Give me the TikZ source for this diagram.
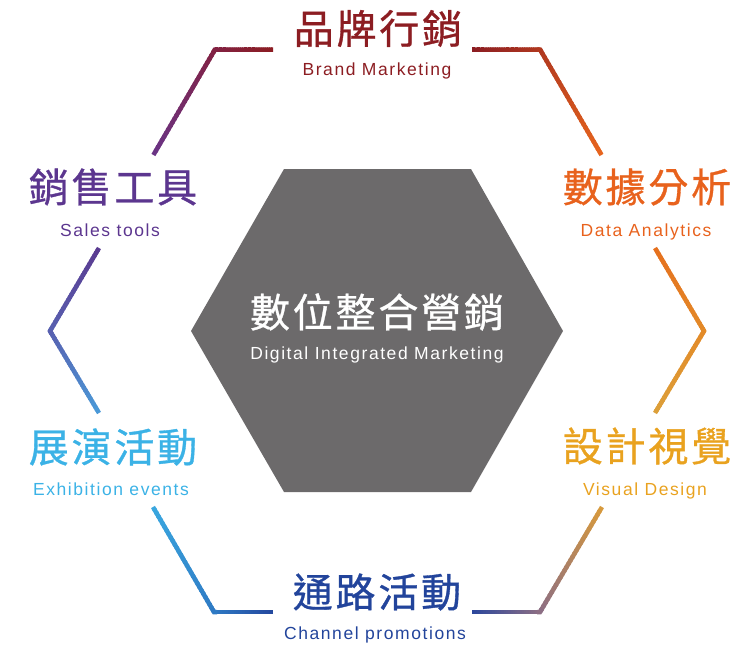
\documentclass[tikz,border=0pt]{standalone}
\usepackage{fontspec}
\setmainfont{Liberation Sans}
\newfontfamily\cjk[FakeBold=0.8]{Noto Sans CJK TC}
\usetikzlibrary{calc}
\definecolor{cRed}{HTML}{8C1D22}
\definecolor{cOrange}{HTML}{E8621D}
\definecolor{cGold}{HTML}{E9A21F}
\definecolor{cBlue}{HTML}{22449B}
\definecolor{cLight}{HTML}{3BB2E6}
\definecolor{cPurple}{HTML}{5C368F}
\definecolor{cHex}{HTML}{6C6A6B}
% line colours
\definecolor{lA}{HTML}{6A3486}
\definecolor{lB}{HTML}{822142}
\definecolor{lC}{HTML}{8C1D22}
\definecolor{lD}{HTML}{B0381F}
\definecolor{lE}{HTML}{E8661E}
\definecolor{lF}{HTML}{E5701E}
\definecolor{lG}{HTML}{E38A28}
\definecolor{lH}{HTML}{DCA03A}
\definecolor{lI}{HTML}{D89A3C}
\definecolor{lJ}{HTML}{8C6E84}
\definecolor{lK}{HTML}{2A469C}
\definecolor{lL}{HTML}{24489E}
\definecolor{lM}{HTML}{2E7AC4}
\definecolor{lN}{HTML}{3AA8E0}
\definecolor{lO}{HTML}{4A9AD8}
\definecolor{lP}{HTML}{5860B0}
\definecolor{lQ}{HTML}{5A3A90}
\tikzset{
  frame/.style={line width=4.5pt, line cap=butt},
  cjktext/.style={font=\cjk\fontsize{40}{44}\selectfont\addfontfeatures{LetterSpace=7}, inner sep=0pt},
  entext/.style={font=\fontsize{17.5}{20}\selectfont\addfontfeatures{LetterSpace=9}, inner sep=0pt, anchor=base},
}
\newcommand\gradseg[4]{%
  \foreach \i in {0,...,29}{%
    \pgfmathsetmacro\ta{\i/30}%
    \pgfmathsetmacro\tb{min((\i+1.5)/30,1)}%
    \pgfmathtruncatemacro\pc{(\i+0.5)/30*100}%
    \draw[frame, color=#4!\pc!#3] ($(#1)!\ta!(#2)$) -- ($(#1)!\tb!(#2)$);
  }}
\newcommand\corner[4]{%
  \draw[frame, color=#4, line join=miter] ($(#2)!3pt!(#1)$) -- (#2) -- ($(#2)!3pt!(#3)$);}
\begin{document}
\begin{tikzpicture}[x=1pt,y=-1pt]
\useasboundingbox (0,0) rectangle (751,651);
% outer frame points
\coordinate (A1) at (153.4,155);
\coordinate (A2) at (215,49.5);
\coordinate (A3) at (273,49.5);
\coordinate (B1) at (472,49.5);
\coordinate (B2) at (540,49.5);
\coordinate (B3) at (601.5,155);
\coordinate (C1) at (655,248);
\coordinate (C2) at (704,331);
\coordinate (C3) at (655,413);
\coordinate (D1) at (602,507);
\coordinate (D2) at (540,612);
\coordinate (D3) at (472,612);
\coordinate (E1) at (273,612);
\coordinate (E2) at (214,612);
\coordinate (E3) at (153,507);
\coordinate (F1) at (99,413);
\coordinate (F2) at (50,331);
\coordinate (F3) at (99,248);
\gradseg{A1}{A2}{lA}{lB}
\gradseg{A2}{A3}{lB}{lC}
\corner{A1}{A2}{A3}{lB}
\gradseg{B1}{B2}{lC}{lD}
\gradseg{B2}{B3}{lD}{lE}
\corner{B1}{B2}{B3}{lD}
\gradseg{C1}{C2}{lF}{lG}
\gradseg{C2}{C3}{lG}{lH}
\corner{C1}{C2}{C3}{lG}
\gradseg{D1}{D2}{lI}{lJ}
\gradseg{D2}{D3}{lJ}{lK}
\corner{D1}{D2}{D3}{lJ}
\gradseg{E1}{E2}{lL}{lM}
\gradseg{E2}{E3}{lM}{lN}
\corner{E1}{E2}{E3}{lM}
\gradseg{F1}{F2}{lO}{lP}
\gradseg{F2}{F3}{lP}{lQ}
\corner{F1}{F2}{F3}{lP}
% central hexagon
\fill[cHex] (284,169) -- (471,169) -- (563,331) -- (471,492) -- (284,492) -- (191,331) -- cycle;
\node[cjktext, text=white] (c1) at (377,312) {數位整合營銷};
\node[entext, text=white] (c2) at (377,359) {Digital Integrated Marketing};
% labels
\node[cjktext, text=cRed] (t1) at (378,28.5) {品牌行銷};
\node[entext, text=cRed] (t2) at (377,75) {Brand Marketing};
\node[cjktext, text=cOrange] (r1) at (647,187) {數據分析};
\node[entext, text=cOrange] (r2) at (646,236) {Data Analytics};
\node[cjktext, text=cGold] (s1) at (647,446) {設計視覺};
\node[entext, text=cGold] (s2) at (645,495) {Visual Design};
\node[cjktext, text=cBlue] (b1) at (377,592) {通路活動};
\node[entext, text=cBlue] (b2) at (375,639) {Channel promotions};
\node[cjktext, text=cLight] (l1) at (113,447) {展演活動};
\node[entext, text=cLight] (l2) at (111,495) {Exhibition events};
\node[cjktext, text=cPurple] (p1) at (113,187) {銷售工具};
\node[entext, text=cPurple] (p2) at (110,236) {Sales tools};
\end{tikzpicture}
\end{document}
